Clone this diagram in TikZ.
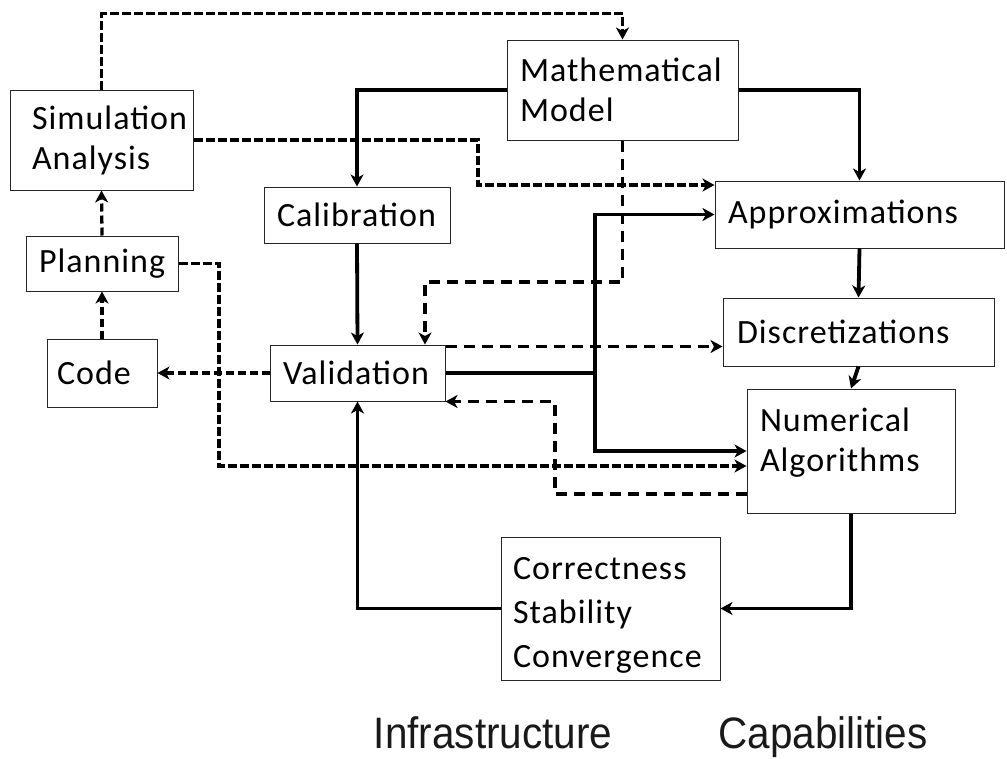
\documentclass[tikz,border=0pt]{standalone}
\usepackage{fontspec}
\usetikzlibrary{arrows.meta}
\newfontfamily\boxfont[LetterSpace=3]{Carlito}
\newfontfamily\capfont[FakeStretch=0.92]{Liberation Sans}

\begin{document}
\begin{tikzpicture}[x=1pt,y=-1pt,
  box/.style={draw=black!85, line width=1pt, inner xsep=13pt, inner ysep=0pt,
              align=left, font=\boxfont\fontsize{34}{40}\selectfont},
  arrowed/.style={-{Stealth[length=12pt,width=13pt,inset=3.5pt]}},
  solidline/.style={line width=3.8pt},
  densedash/.style={line width=3.3pt, dash pattern=on 9pt off 3pt},
  middash/.style={line width=3.3pt, dash pattern=on 8pt off 4pt},
  loosedash/.style={line width=3.3pt, dash pattern=on 11pt off 7pt},
  caption/.style={font=\capfont\fontsize{44}{52}\selectfont, text=black!90, inner sep=0pt}
]
\useasboundingbox (0,0) rectangle (1007,758);

% ---- boxes ----
\node[box, minimum height=100pt, text width=205pt] (mm) at (622.5,90) {Mathematical\\Model};
\node[box, minimum height=100pt, inner xsep=22pt, text width=139pt] (sim) at (101.5,140) {Simulation\\Analysis};
\node[box, minimum height=56pt, text width=160pt] (cal) at (357,215) {Calibration};
\node[box, minimum height=55pt, text width=126pt] (plan) at (102,263.5) {Planning};
\node[box, minimum height=68pt, inner xsep=10pt, text width=90pt] (code) at (102,373) {Code};
\node[box, minimum height=56pt, text width=149pt] (val) at (357.5,373) {Validation};
\node[box, minimum height=67pt, text width=263pt] (approx) at (859.5,214.5) {Approximations};
\node[box, minimum height=68pt, inner xsep=14pt, text width=243pt] (disc) at (858.5,332) {Discretizations};
% label sits in the upper part of its box
\node[box, minimum height=124pt, text width=182pt] (num) at (851,451) {Numerical\\Algorithms\\[-18pt]\mbox{}};
% first line gets a taller strut so the block sits a little lower
\node[box, minimum height=143pt, inner xsep=12pt, text width=195pt,
      font=\boxfont\fontsize{34}{44}\selectfont] (corr) at (610.5,608.5)
      {\rule{0pt}{35pt}Correctness\\Stability\\Convergence};

% ---- captions ----
\node[caption, anchor=base] (infra) at (493,748) {Infrastructure};
\node[caption, anchor=base] (capab) at (823,748) {Capabilities};

% ---- routing points ----
\coordinate (s2a) at (478,185);
\coordinate (m2v) at (425,282);
\coordinate (vj)  at (595,373);
\coordinate (n2v) at (555,494);
\coordinate (p2n) at (219,466);

% ---- solid connectors ----
\draw[solidline, arrowed] (mm.west) -| (cal.north);
\draw[solidline, arrowed] (mm.east) -| (approx.north);
\draw[solidline, arrowed] (cal.south) -- (val.north);
\draw[solidline, arrowed] (val.east) -- (vj) |- (approx.west);
\draw[solidline, arrowed] (vj) |- (num.west);
\draw[solidline, arrowed] (approx.south) -- (disc.north);
\draw[solidline, arrowed] (disc.south) -- (num.north);
\draw[solidline, arrowed] (num.south) |- (corr.east);
\draw[solidline, arrowed] (corr.west) -| (val.south);

% ---- dashed connectors ----
\draw[densedash, arrowed] (sim.north) -- ++(0,-76) -| (mm.north);
\draw[densedash, arrowed] (sim.east) -| (s2a) -- (s2a -| approx.west);
\draw[loosedash, arrowed] (mm.south) |- (m2v) -- (m2v |- val.north);
\draw[loosedash, arrowed] ([yshift=-2pt]val.north east) -- ([yshift=-2pt]val.north east -| disc.west);
\draw[loosedash, arrowed] (n2v -| num.west) -- (n2v) |- (val.south east);
\draw[densedash, arrowed] (plan.east) -| (p2n) -- (p2n -| num.west);
\draw[middash, arrowed] (val.west) -- (code.east);
\draw[middash, arrowed] (code.north) -- (plan.south);
\draw[middash, arrowed] (plan.north) -- (sim.south);
\end{tikzpicture}
\end{document}
